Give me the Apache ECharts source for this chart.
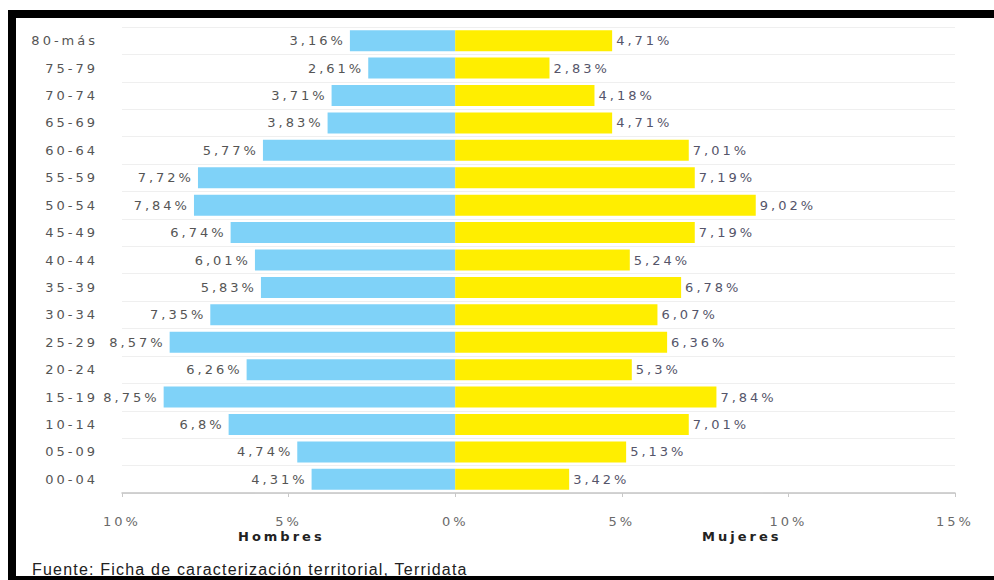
<!DOCTYPE html>
<html>
<head>
<meta charset="utf-8">
<script src="https://cdn.jsdelivr.net/npm/echarts@6/dist/echarts.min.js"></script>
<style>
  html, body { margin: 0; padding: 0; background: #fff; }
  #chart { width: 994px; height: 580px; position: absolute; left: 0; top: 0; }
  #chart svg text { letter-spacing: 3px; }
  #footer { position: absolute; left: 32px; top: 561px; font-family: "Liberation Sans", Arial, sans-serif; font-size: 16px; letter-spacing: 1.2px; color: #222; white-space: nowrap; }
  .band { position: absolute; background: #000; }
</style>
</head>
<body>
<div id="chart"></div>
<div id="footer">Fuente: Ficha de caracterización territorial, Terridata</div>
<div class="band" style="left:8px;top:10px;width:986px;height:8px;"></div>
<div class="band" style="left:8px;top:10px;width:8px;height:570px;"></div>
<div class="band" style="left:8px;top:576px;width:986px;height:4px;"></div>
<script>
const categories = ['80-más', '75-79', '70-74', '65-69', '60-64', '55-59', '50-54', '45-49', '40-44', '35-39', '30-34', '25-29', '20-24', '15-19', '10-14', '05-09', '00-04'];
const hombres = [3.16, 2.61, 3.71, 3.83, 5.77, 7.72, 7.84, 6.74, 6.01, 5.83, 7.35, 8.57, 6.26, 8.75, 6.8, 4.74, 4.31];
const mujeres = [4.71, 2.83, 4.18, 4.71, 7.01, 7.19, 9.02, 7.19, 5.24, 6.78, 6.07, 6.36, 5.3, 7.84, 7.01, 5.13, 3.42];
const xTicks = { min: -10, max: 15, interval: 5 };

const fmtPct = v => String(Math.abs(v)).replace('.', ',') + '%';
const font = 'DejaVu Sans';

const chart = echarts.init(document.getElementById('chart'), null, { renderer: 'svg' });
chart.setOption({
  animation: false,
  backgroundColor: '#fff',
  grid: { left: 122, right: 39, top: 27, bottom: 87 },
  xAxis: {
    type: 'value',
    min: xTicks.min, max: xTicks.max, interval: xTicks.interval,
    axisLine: { show: true, lineStyle: { color: '#c4c4c4', width: 1.5 } },
    axisTick: { show: true, length: 4, lineStyle: { color: '#c8c8c8' } },
    splitLine: { show: false },
    axisLabel: { margin: 22, color: '#6a6a6a', fontFamily: font, fontSize: 13, formatter: v => Math.abs(v) + '%' }
  },
  yAxis: {
    type: 'category',
    data: categories,
    inverse: true,
    axisLine: { show: false },
    axisTick: { show: false },
    splitLine: { show: true, lineStyle: { color: '#efefef', width: 1 } },
    axisLabel: { interval: 0, margin: 24, color: '#555', fontFamily: font, fontSize: 13 }
  },
  series: [
    {
      name: 'Hombres', type: 'bar', stack: 'p', barWidth: 21,
      data: hombres.map(v => -v),
      itemStyle: { color: '#7fd2f8' },
      label: { show: true, position: 'left', distance: 4, color: '#555', fontFamily: font, fontSize: 13, formatter: p => fmtPct(p.value) }
    },
    {
      name: 'Mujeres', type: 'bar', stack: 'p', barWidth: 21,
      data: mujeres,
      itemStyle: { color: '#ffee00' },
      label: { show: true, position: 'right', distance: 4, color: '#55556a', fontFamily: font, fontSize: 13, formatter: p => fmtPct(p.value) }
    }
  ],
  graphic: [
    { type: 'text', left: 238, top: 530, style: { text: 'Hombres', font: 'bold 13px "DejaVu Sans"', fill: '#222' } },
    { type: 'text', left: 702, top: 530, style: { text: 'Mujeres', font: 'bold 13px "DejaVu Sans"', fill: '#222' } }
  ]
});
</script>
</body>
</html>
